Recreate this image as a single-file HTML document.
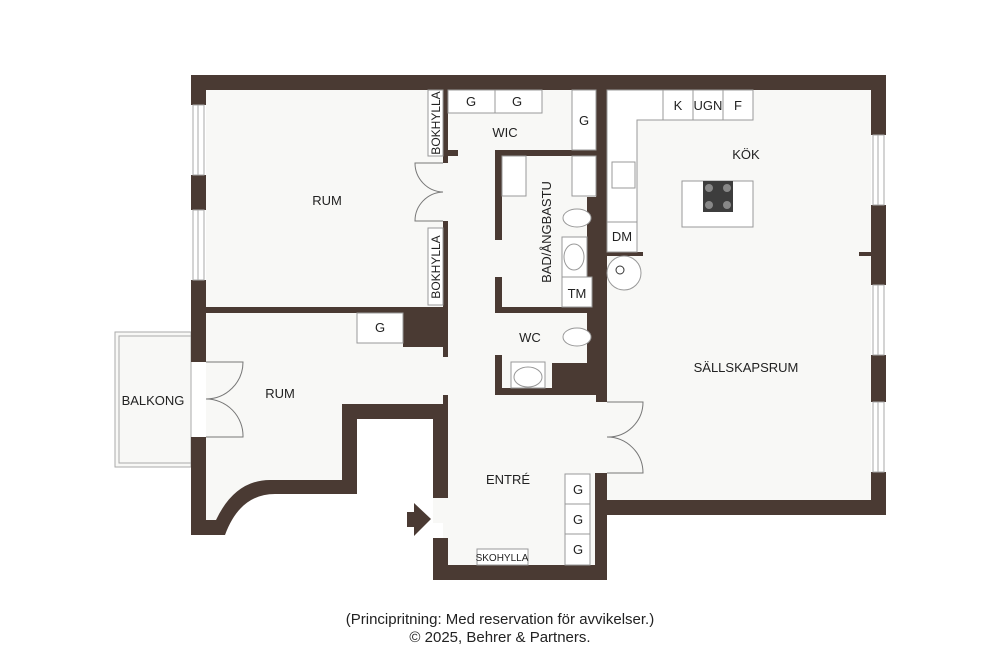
<!DOCTYPE html>
<html><head><meta charset="utf-8"><style>
html,body{margin:0;padding:0;background:#fff;}
svg{display:block;}
text{font-family:"Liberation Sans",sans-serif;fill:#222;}
</style></head><body>
<svg width="1000" height="670" viewBox="0 0 1000 670" xmlns="http://www.w3.org/2000/svg">
<g fill="#f8f8f6">
<rect x="206" y="90" width="665" height="410"/>
<rect x="206" y="313" width="237" height="210"/>
<rect x="443" y="400" width="155" height="167"/>
</g>
<!-- balcony -->
<rect x="115" y="332" width="76" height="135" fill="#f8f8f6" stroke="#aaa" stroke-width="1"/>
<rect x="119" y="336" width="72" height="127" fill="none" stroke="#aaa" stroke-width="1"/>
<!-- white cutout (outside) -->
<path d="M357,419 L433,419 L433,580 L357,580 Z" fill="#fff"/>
<path d="M191,535 L225,535 Q240,494 275,494 L357,494 L357,580 L191,580 Z" fill="#fff"/>
<path d="M206,520 L216,520 Q235,480 270,480 L342,480 L342,404 L443,404 L443,419 L357,419 L357,494 L275,494 Q240,494 225,535 L191,535 L191,520 Z" fill="#4a3a33"/>
<g fill="#4a3a33">
<!-- outer walls -->
<rect x="191" y="75" width="695" height="15"/>
<rect x="191" y="75" width="15" height="30"/>
<rect x="191" y="175" width="15" height="35"/>
<rect x="191" y="280" width="15" height="82"/>
<rect x="191" y="437" width="15" height="98"/>
<rect x="871" y="75" width="15" height="60"/>
<rect x="871" y="205" width="15" height="80"/>
<rect x="871" y="355" width="15" height="47"/>
<rect x="871" y="472" width="15" height="43"/>
<rect x="596" y="500" width="290" height="15"/>
<rect x="342" y="404" width="101" height="15"/>
<rect x="433" y="404" width="15" height="94"/>
<rect x="433" y="538" width="15" height="42"/>
<rect x="433" y="565" width="174" height="15"/>
<rect x="595" y="473" width="12" height="107"/>
<rect x="596" y="90" width="11" height="312"/>
<rect x="587" y="197" width="20" height="198"/>
<!-- interior -->
<rect x="206" y="307" width="237" height="6"/>
<rect x="403" y="313" width="40" height="34"/>
<rect x="443" y="90" width="5" height="73"/>
<rect x="443" y="221" width="5" height="136"/>
<rect x="443" y="395" width="5" height="10"/>
<rect x="443" y="150" width="15" height="6"/>
<rect x="495" y="150" width="101" height="6"/>
<rect x="495" y="150" width="7" height="90"/>
<rect x="495" y="277" width="7" height="36"/>
<rect x="495" y="307" width="92" height="6"/>
<rect x="495" y="355" width="7" height="40"/>
<rect x="495" y="388" width="112" height="7"/>
<rect x="552" y="363" width="35" height="32"/>
<rect x="607" y="252" width="36" height="4"/>
<rect x="859" y="252" width="12" height="4"/>
</g>
<!-- windows -->
<g fill="#fff" stroke="#aaa" stroke-width="1">
<rect x="193" y="105" width="11" height="70"/><rect x="193" y="210" width="11" height="70"/>
<rect x="873" y="135" width="11" height="70"/><rect x="873" y="285" width="11" height="70"/><rect x="873" y="402" width="11" height="70"/>
</g>
<g stroke="#aaa" stroke-width="1"><line x1="198" y1="105" x2="198" y2="175"/><line x1="198" y1="210" x2="198" y2="280"/>
<line x1="878" y1="135" x2="878" y2="205"/><line x1="878" y1="285" x2="878" y2="355"/><line x1="878" y1="402" x2="878" y2="472"/></g>
<!-- cabinets -->
<g fill="#fff" stroke="#999" stroke-width="1">
<rect x="428" y="90" width="15" height="66"/><rect x="428" y="228" width="15" height="77"/>
<rect x="448" y="90" width="47" height="23"/><rect x="495" y="90" width="47" height="23"/>
<rect x="572" y="90" width="24" height="60"/>
<rect x="357" y="313" width="46" height="30"/>
<rect x="502" y="156" width="24" height="40"/><rect x="572" y="156" width="24" height="40"/>
<rect x="562" y="237" width="25" height="40"/><rect x="562" y="277" width="30" height="30"/>
<rect x="511" y="362" width="34" height="26"/>
<rect x="565" y="474" width="25" height="30"/><rect x="565" y="504" width="25" height="30"/><rect x="565" y="534" width="25" height="31"/>
<rect x="477" y="549" width="51" height="16"/>
<path d="M607,90 L753,90 L753,120 L637,120 L637,222 L607,222 Z"/>
<rect x="663" y="90" width="30" height="30"/><rect x="693" y="90" width="30" height="30"/><rect x="723" y="90" width="30" height="30"/>
<rect x="607" y="222" width="30" height="30"/>
<rect x="682" y="181" width="71" height="46"/>
<rect x="612" y="162" width="23" height="26"/>
<circle cx="624" cy="273" r="17"/>
<ellipse cx="577" cy="218" rx="14" ry="9"/><ellipse cx="577" cy="337" rx="14" ry="9"/>
<ellipse cx="574" cy="257" rx="10" ry="13"/><ellipse cx="528" cy="377" rx="14" ry="10"/>
</g>
<circle cx="620" cy="270" r="4" fill="none" stroke="#333"/>
<rect x="703" y="181" width="30" height="31" fill="#3d3d3d"/>
<g fill="#888"><circle cx="709" cy="188" r="4"/><circle cx="727" cy="188" r="4"/><circle cx="709" cy="205" r="4"/><circle cx="727" cy="205" r="4"/></g>
<!-- doors -->
<g fill="none" stroke="#777" stroke-width="1">
<path d="M443,163 L415,163 A29,29 0 0 0 443,192 A29,29 0 0 0 415,221 L443,221"/>
<path d="M206,362 L243,362 A37,37 0 0 1 206,399 A37,37 0 0 1 243,437 L206,437"/>
<path d="M607,402 L643,402 A35,35 0 0 1 607,437 A36,36 0 0 1 643,473 L607,473"/>
</g>
<path d="M407,512 L414,512 L414,503 L431,519 L414,536 L414,527 L407,527 Z" fill="#4a3a33"/>
<g font-size="13" text-anchor="middle">
<text x="327" y="205">RUM</text><text x="280" y="398">RUM</text><text x="153" y="405">BALKONG</text>
<text x="505" y="137">WIC</text><text x="577" y="298">TM</text><text x="530" y="342">WC</text>
<text x="508" y="484">ENTRÉ</text><text x="746" y="159">KÖK</text><text x="746" y="372">SÄLLSKAPSRUM</text>
<text x="622" y="241">DM</text>
<text x="471" y="106">G</text><text x="517" y="106">G</text><text x="584" y="125">G</text><text x="380" y="332">G</text>
<text x="578" y="494">G</text><text x="578" y="524">G</text><text x="578" y="554">G</text>
<text x="678" y="110">K</text><text x="708" y="110">UGN</text><text x="738" y="110">F</text>
<text transform="translate(551,232) rotate(-90)">BAD/ÅNGBASTU</text>
<text transform="translate(440,123) rotate(-90)" font-size="12">BOKHYLLA</text>
<text transform="translate(440,267) rotate(-90)" font-size="12">BOKHYLLA</text>
<text x="502" y="561" font-size="10">SKOHYLLA</text>
</g>
<g font-size="15" text-anchor="middle"><text x="500" y="624">(Principritning: Med reservation för avvikelser.)</text>
<text x="500" y="642">© 2025, Behrer &amp; Partners.</text></g>
</svg>
</body></html>
